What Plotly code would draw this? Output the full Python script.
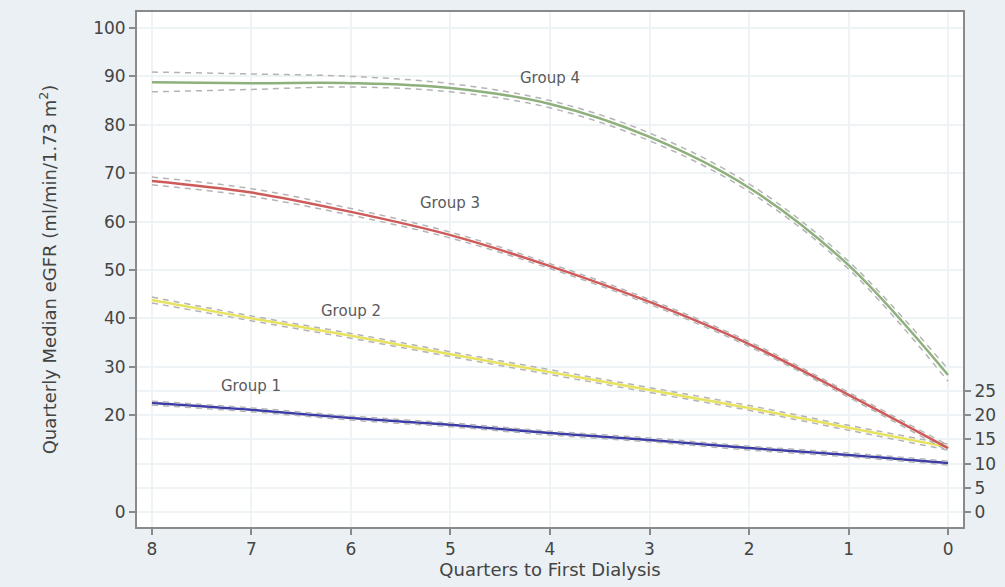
import plotly.graph_objects as go

quarters = [8, 7, 6, 5, 4, 3, 2, 1, 0]

g1 = [22.5, 21.1, 19.4, 18.0, 16.3, 14.9, 13.2, 11.8, 10.1]
g1_hi = [22.9, 21.5, 19.8, 18.4, 16.7, 15.3, 13.6, 12.2, 10.5]
g1_lo = [22.1, 20.7, 19.0, 17.6, 15.9, 14.5, 12.8, 11.4, 9.7]

g2 = [43.8, 40.0, 36.4, 32.6, 28.9, 25.2, 21.5, 17.4, 13.4]
g2_hi = [44.4, 40.5, 36.9, 33.1, 29.4, 25.7, 22.0, 17.9, 14.0]
g2_lo = [43.2, 39.5, 35.9, 32.1, 28.4, 24.7, 21.0, 16.9, 12.8]

g3 = [68.4, 66.0, 62.0, 57.2, 50.8, 43.4, 34.7, 24.2, 13.2]
g3_hi = [69.2, 66.8, 62.7, 57.8, 51.3, 43.9, 35.2, 24.7, 13.8]
g3_lo = [67.6, 65.2, 61.3, 56.6, 50.3, 42.9, 34.2, 23.7, 12.6]

g4 = [88.8, 88.6, 88.6, 87.6, 84.3, 77.5, 67.0, 51.0, 28.3]
g4_hi = [90.9, 90.5, 90.0, 88.5, 85.0, 78.3, 67.8, 51.8, 29.5]
g4_lo = [86.8, 87.3, 87.8, 86.8, 83.5, 76.7, 66.2, 50.2, 27.0]

group_names = ["Group 1", "Group 2", "Group 3", "Group 4"]
label_x = [7.0, 6.0, 5.0, 4.0]
label_y = [26.0, 41.5, 63.8, 89.7]

left_ticks = [0, 20, 30, 40, 50, 60, 70, 80, 90, 100]
right_ticks = [0, 5, 10, 15, 20, 25]

colors = ["#3c3ca8", "#e8e35e", "#cf5a5a", "#8db07c"]
series = [(g1, g1_hi, g1_lo), (g2, g2_hi, g2_lo), (g3, g3_hi, g3_lo), (g4, g4_hi, g4_lo)]

FONT = "DejaVu Sans, Verdana, sans-serif"

fig = go.Figure()
for (mid, hi, lo), c, name in zip(series, colors, group_names):
    fig.add_trace(go.Scatter(x=quarters, y=mid, mode="lines", line=dict(color=c, width=2.5, shape="spline"),
                             name=name, showlegend=False))
    for band in (hi, lo):
        fig.add_trace(go.Scatter(x=quarters, y=band, mode="lines",
                                 line=dict(color="#b4b4b4", width=1.5, dash="6px,5px", shape="spline"),
                                 showlegend=False, hoverinfo="skip"))

# invisible trace on right axis
fig.add_trace(go.Scatter(x=[quarters[0]], y=[0], yaxis="y2", mode="markers", marker=dict(opacity=0),
                         showlegend=False, hoverinfo="skip"))

for name, lx, ly in zip(group_names, label_x, label_y):
    fig.add_annotation(x=lx, y=ly, text=name, showarrow=False,
                       font=dict(family=FONT, size=15, color="#5a5a5a"))

yrange = [-3.1, 103.3]
axis_common = dict(showline=True, linecolor="#8a8a8a", linewidth=2, ticks="outside", ticklen=6,
                   tickcolor="#8a8a8a", tickwidth=1.5, showgrid=True, gridcolor="#eef3f6", gridwidth=1.5,
                   zeroline=False, automargin=False,
                   tickfont=dict(family=FONT, size=17, color="#444444"))

fig.update_layout(
    width=1005, height=587,
    margin=dict(l=137, r=42, t=12, b=60),
    paper_bgcolor="#eaf0f3", plot_bgcolor="#ffffff",
    xaxis=dict(range=[8.15, -0.15], tickvals=quarters, mirror=True,
               title=dict(text="Quarters to First Dialysis", standoff=0,
                          font=dict(family=FONT, size=18, color="#444444")),
               **axis_common),
    yaxis=dict(range=yrange, tickvals=left_ticks, mirror=True,
               title=dict(text="Quarterly Median eGFR (ml/min/1.73 m<sup>2</sup>)", standoff=32,
                          font=dict(family=FONT, size=18, color="#444444")),
               **axis_common),
    yaxis2=dict(range=yrange, tickvals=right_ticks, overlaying="y", side="right", **axis_common),
)

fig.write_html("out.html")
